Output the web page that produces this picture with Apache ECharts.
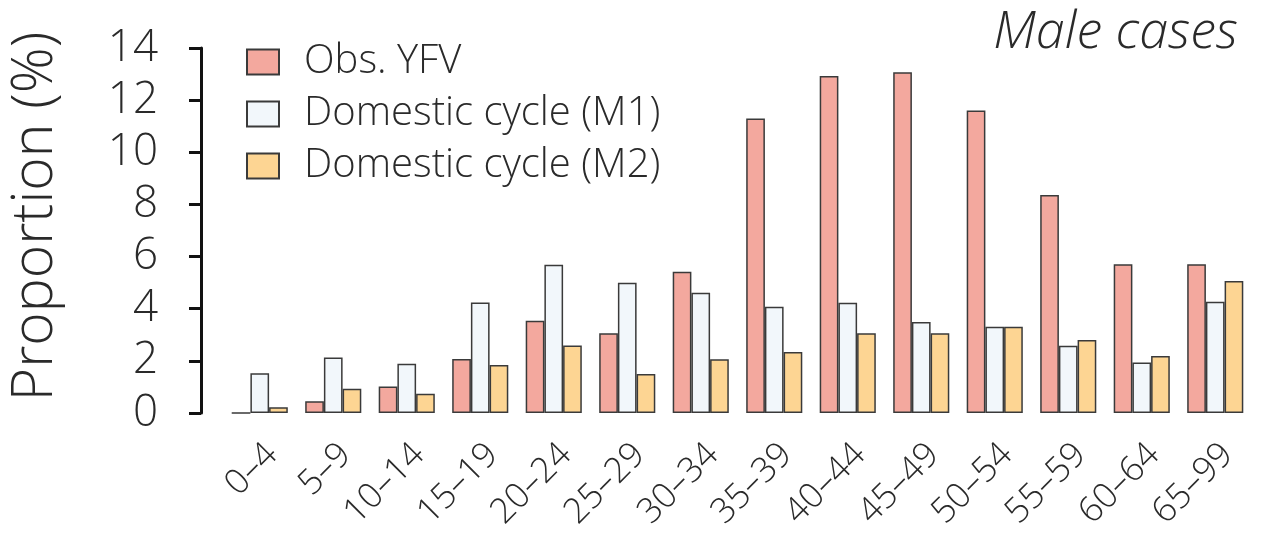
<!DOCTYPE html>
<html>
<head>
<meta charset="utf-8">
<script src="https://cdn.jsdelivr.net/npm/echarts@6/dist/echarts.min.js"></script>
<style>html,body{margin:0;padding:0;background:#fff;}#c{width:1261px;height:537px;}</style>
</head>
<body>
<div id="c"></div>
<script>
var categories = ['0\u20134','5\u20139','10\u201314','15\u201319','20\u201324','25\u201329','30\u201334','35\u201339','40\u201344','45\u201349','50\u201354','55\u201359','60\u201364','65\u201399'];
var obsYFV = [0, 0.45, 1.02, 2.07, 3.54, 3.06, 5.42, 11.30, 12.93, 13.07, 11.60, 8.36, 5.71, 5.71];
var domesticM1 = [1.52, 2.13, 1.89, 4.24, 5.69, 5.00, 4.61, 4.08, 4.23, 3.49, 3.31, 2.58, 1.94, 4.27];
var domesticM2 = [0.22, 0.93, 0.74, 1.84, 2.59, 1.50, 2.06, 2.34, 3.06, 3.06, 3.31, 2.80, 2.19, 5.06];
var yTicks = [0, 2, 4, 6, 8, 10, 12, 14];

var FONT = '"Open Sans"';
var TXT = '#2a2a2a';
var chart = echarts.init(document.getElementById('c'));
function bar(name, data, color) {
  return {
    name: name, type: 'bar', data: data, barWidth: 18.7, barGap: '0%',
    itemStyle: { color: color, borderColor: '#3a3a3a', borderWidth: 1.5 },
    emphasis: { disabled: true }
  };
}
chart.setOption({
  animation: false,
  title: {
    text: 'Male cases', right: 18, top: 2,
    textStyle: { fontFamily: FONT, fontSize: 52, fontStyle: 'italic', fontWeight: 300, color: TXT }
  },
  legend: {
    orient: 'vertical', left: 246, top: 42, padding: 0,
    itemWidth: 32, itemHeight: 25, itemGap: 12,
    icon: 'rect',
    textStyle: { fontFamily: FONT, fontSize: 40, lineHeight: 40, fontWeight: 300, color: TXT, padding: [0, 0, 0, 20] },
    data: ['Obs. YFV', 'Domestic cycle (M1)', 'Domestic cycle (M2)']
  },
  grid: { left: 223, right: 9, top: 48, bottom: 124, containLabel: false, outerBoundsMode: 'none' },
  xAxis: {
    type: 'category', data: categories,
    axisLine: { show: false }, axisTick: { show: false },
    axisLabel: { rotate: 45, margin: 24, verticalAlign: 'top', fontFamily: FONT, fontSize: 35, fontWeight: 300, color: TXT, interval: 0 }
  },
  yAxis: {
    type: 'value', min: 0, max: 14, interval: 2, offset: 22,
    name: 'Proportion (%)', nameLocation: 'middle', nameGap: 137, nameRotate: 90,
    nameTextStyle: { fontFamily: FONT, fontSize: 57, fontWeight: 300, color: TXT, padding: [0, 0, 0, 28] },
    splitLine: { show: false },
    axisLine: { show: true, lineStyle: { color: '#111', width: 3 } },
    axisTick: { show: true, length: 12, lineStyle: { color: '#111', width: 3 } },
    axisLabel: { margin: 43, fontFamily: FONT, fontSize: 44, fontWeight: 300, color: TXT,
      formatter: function (v) { return yTicks.indexOf(v) >= 0 ? String(v) : ''; } }
  },
  series: [
    bar('Obs. YFV', obsYFV, '#F3A89E'),
    bar('Domestic cycle (M1)', domesticM1, '#F2F7FB'),
    bar('Domestic cycle (M2)', domesticM2, '#FDD593')
  ]
});
</script>
</body>
</html>
